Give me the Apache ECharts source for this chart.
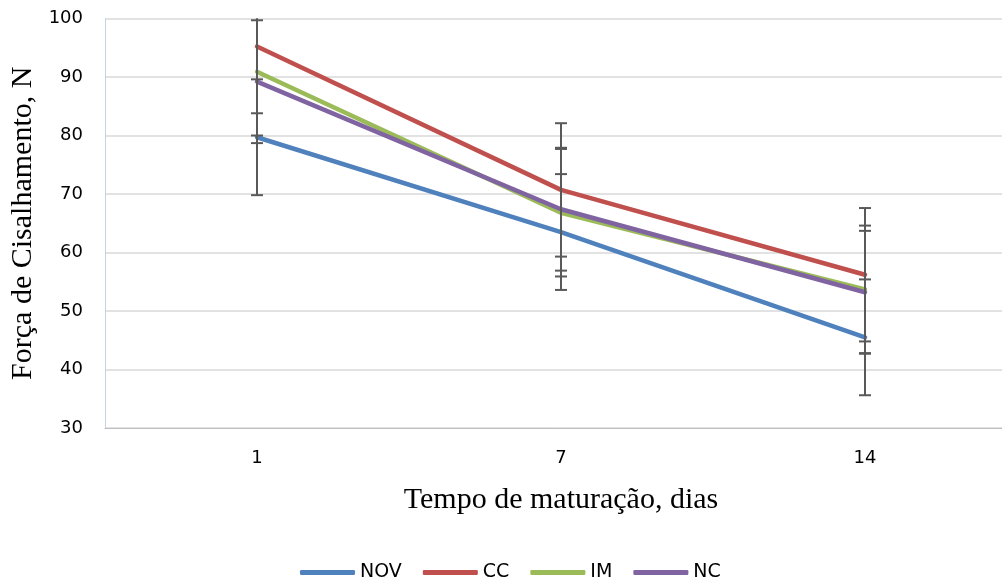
<!DOCTYPE html>
<html><head><meta charset="utf-8">
<script src="https://cdn.jsdelivr.net/npm/echarts@6/dist/echarts.min.js"></script>
<style>html,body{margin:0;padding:0;background:#fff}#c{width:1002px;height:583px}</style>
</head><body><div id="c"></div>
<script>
const categories = ['1', '7', '14'];
const seriesNames = ['NOV', 'CC', 'IM', 'NC'];
const NOV = [79.7, 63.5, 45.5];
const CC = [95.2, 70.7, 56.2];
const IM = [90.9, 66.8, 53.7];
const NC = [89.2, 67.4, 53.2];
const errNOV = [9.9, 9.9, 9.9];
const errCC = [11.4, 11.4, 11.4];
const errIM = [10.9, 10.9, 10.9];
const errNC = [10.5, 10.5, 10.5];
const yTicks = [30, 40, 50, 60, 70, 80, 90, 100];

const values = [NOV, CC, IM, NC];
const errs = [errNOV, errCC, errIM, errNC];
const colors = ['#4F81BD', '#C0504D', '#9BBB59', '#8064A2'];
const yMin = yTicks[0], yMax = yTicks[yTicks.length - 1];

const chart = echarts.init(document.getElementById('c'), null, {renderer: 'canvas'});
const series = [];
values.forEach((v, i) => {
  series.push({
    name: seriesNames[i], type: 'line', data: v, symbol: 'none',
    lineStyle: {color: colors[i], width: 4.5, cap: 'round', join: 'round'},
    itemStyle: {color: colors[i]}, z: 2 + i
  });
});
values.forEach((v, i) => {
  const data = v.map((val, k) => [k, val, errs[i][k]]);
  series.push({
    name: 'err' + i, type: 'custom', z: 20,
    data: data,
    renderItem: function (params, api) {
      const x = api.value(0), val = api.value(1), e = api.value(2);
      const hiV = val + e, loV = val - e;
      const hi = api.coord([x, Math.min(hiV, yMax)]);
      const lo = api.coord([x, Math.max(loV, yMin)]);
      const w = 6;
      const st = {stroke: '#595959', lineWidth: 2};
      const children = [{type: 'line', shape: {x1: hi[0], y1: hi[1], x2: lo[0], y2: lo[1]}, style: st}];
      if (hiV <= yMax) children.push({type: 'line', shape: {x1: hi[0] - w, y1: hi[1], x2: hi[0] + w, y2: hi[1]}, style: st});
      if (loV >= yMin) children.push({type: 'line', shape: {x1: lo[0] - w, y1: lo[1], x2: lo[0] + w, y2: lo[1]}, style: st});
      return {type: 'group', children: children};
    }
  });
});

chart.setOption({
  animation: false,
  backgroundColor: '#ffffff',
  grid: {left: 105, top: 18.5, width: 912, height: 409.5, containLabel: false, outerBoundsMode: 'none'},
  xAxis: {
    type: 'category', data: categories, boundaryGap: true,
    axisLine: {lineStyle: {color: '#BFBFBF', width: 1}},
    axisTick: {show: false},
    axisLabel: {color: '#000', fontFamily: 'DejaVu Sans', fontSize: 18, margin: 21},
    name: 'Tempo de maturação, dias', nameLocation: 'middle', nameGap: 57,
    nameTextStyle: {color: '#000', fontFamily: 'Liberation Serif', fontSize: 30}
  },
  yAxis: {
    type: 'value', min: yMin, max: yMax, interval: 10,
    axisLine: {show: true, lineStyle: {color: '#C6D3E3', width: 1}},
    axisTick: {show: false},
    splitLine: {lineStyle: {color: '#D9D9D9', width: 1.5}},
    axisLabel: {color: '#000', fontFamily: 'DejaVu Sans', fontSize: 18, margin: 22},
    name: 'Força de Cisalhamento, N', nameLocation: 'middle', nameGap: 67, nameRotate: 90,
    nameTextStyle: {color: '#000', fontFamily: 'Liberation Serif', fontSize: 30}
  },
  legend: {
    data: seriesNames, top: 558, left: 295,
    icon: 'roundRect', itemWidth: 55, itemHeight: 5, itemGap: 21,
    textStyle: {color: '#000', fontFamily: 'DejaVu Sans', fontSize: 19}
  },
  series: series
});
</script></body></html>
